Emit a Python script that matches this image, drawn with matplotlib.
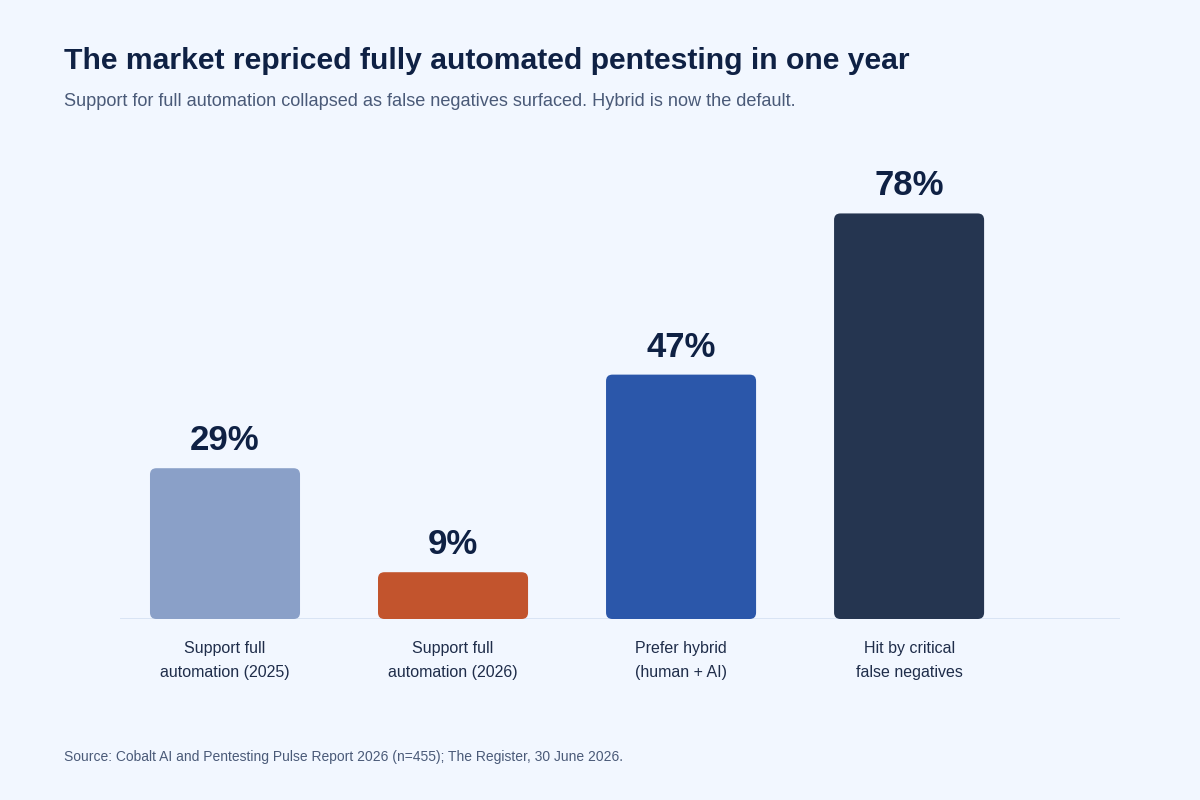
import matplotlib
matplotlib.use("Agg")
import matplotlib.pyplot as plt
from matplotlib.patches import FancyBboxPatch

categories = ["Support full\nautomation (2025)", "Support full\nautomation (2026)",
              "Prefer hybrid\n(human + AI)", "Hit by critical\nfalse negatives"]
values = [29, 9, 47, 78]
labels = ["29%", "9%", "47%", "78%"]
colors = ["#8aa0c8", "#c2542d", "#2b57aa", "#253550"]

BG = "#f2f7ff"
plt.rcParams['font.family'] = ['Liberation Sans', 'DejaVu Sans']

fig = plt.figure(figsize=(12, 8), dpi=100, facecolor=BG)
# axes: x 120..1120 px, y baseline 619 -> top 150
ax = fig.add_axes([120/1200, 1-619/800, 1000/1200, (619-150)/800])
ax.set_facecolor(BG)
ax.set_xlim(-0.4605, 3.925)
ax.set_ylim(0, 90.2)

width = 0.658
bars = ax.bar(range(len(values)), values, width=width, color=colors)
for b, c in zip(bars, colors):
    b.set_visible(False)
    x, y = b.get_x(), b.get_y()
    w, h = b.get_width(), b.get_height()
    r = 0.028
    p = FancyBboxPatch((x + r, y + r*44), w - 2*r, h - 2*r*44,
                       boxstyle=f"round,pad={r},rounding_size={r}",
                       mutation_aspect=44, facecolor=c, edgecolor='none')
    ax.add_patch(p)

for i, (v, lab) in enumerate(zip(values, labels)):
    ax.annotate(lab, (i, v), xytext=(0, 8), textcoords='offset points',
                ha='center', va='bottom', fontsize=25, fontweight='bold', color='#0f2144')

ax.axhline(0, color='#d6e2f3', lw=2, zorder=0)
for s in ax.spines.values():
    s.set_visible(False)
ax.set_yticks([])
ax.set_xticks(range(len(values)))
ax.set_xticklabels(categories, fontsize=11.5, color='#1f2d4a', linespacing=1.75)
ax.tick_params(axis='x', length=0, pad=16)

fig.text(64/1200, 1-61/800, "The market repriced fully automated pentesting in one year",
         fontsize=21.7, fontweight='bold', color='#0f2144', va='center', ha='left')
fig.text(64/1200, 1-102/800, "Support for full automation collapsed as false negatives surfaced. Hybrid is now the default.",
         fontsize=13.1, color='#4a5a78', va='center', ha='left')
fig.text(64/1200, 1-757/800, "Source: Cobalt AI and Pentesting Pulse Report 2026 (n=455); The Register, 30 June 2026.",
         fontsize=10, color='#4a5a78', va='center', ha='left')

fig.savefig("out.png", dpi=100, facecolor=BG)
